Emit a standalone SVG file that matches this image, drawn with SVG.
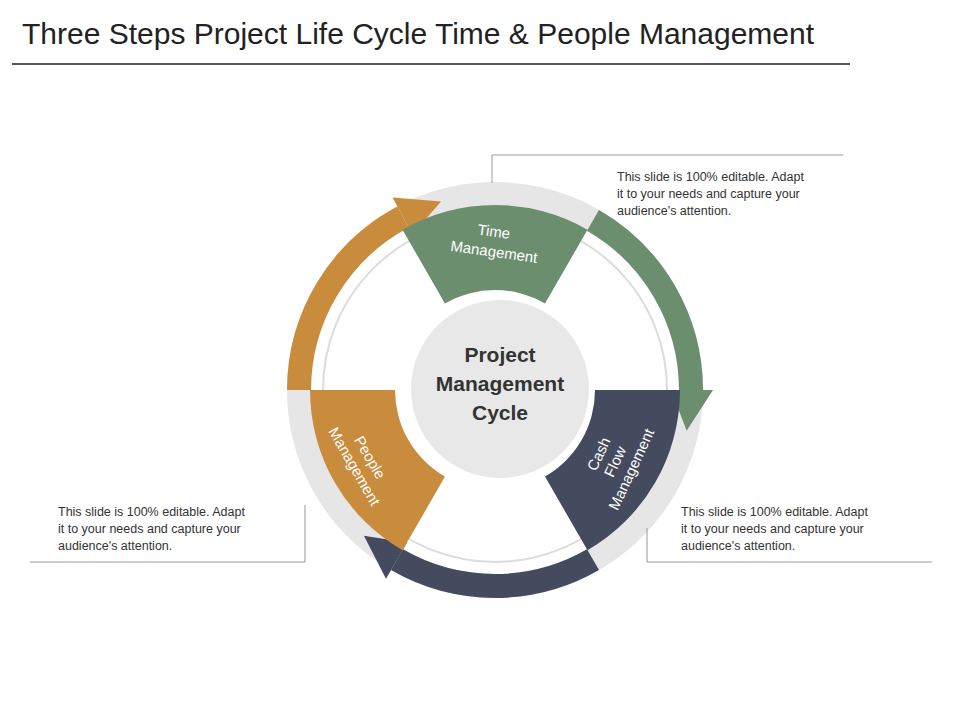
<svg xmlns="http://www.w3.org/2000/svg" width="960" height="720" viewBox="0 0 960 720">
<style>
.t{font-family:"Liberation Sans",Arial,sans-serif}
.note{font-family:"Liberation Sans",Arial,sans-serif;font-size:12.5px;fill:#333}
.lbl{font-family:"Liberation Sans",Arial,sans-serif;font-size:15px;fill:#fff}
.band{fill:none;stroke-width:24}
.co{fill:none;stroke:#999;stroke-width:1}
</style>
<rect width="960" height="720" fill="#fff"/>
<text class="t" x="22" y="44" font-size="30" fill="#222">Three Steps Project Life Cycle Time &amp; People Management</text>
<line x1="12" y1="64" x2="850" y2="64" stroke="#555" stroke-width="2"/>
<g id="ring">
<circle cx="495" cy="390" r="196" fill="none" stroke="#e6e6e6" stroke-width="24"/>
<circle cx="495" cy="390" r="172" fill="none" stroke="#dcdcdc" stroke-width="2"/>
</g>
<g id="connectors">
<path class="band" stroke="#c98b3c" d="M299,390 A196 196 0 0 1 403,217"/>
<polygon fill="#c98b3c" points="412.4,234.6 392.6,197.5 441,201.6"/>
<path class="band" stroke="#6b8e6e" d="M593,220.3 A196 196 0 0 1 691,390"/>
<polygon fill="#6b8e6e" points="671,390 713,390 686.7,430.8"/>
<path class="band" stroke="#454b5e" d="M593,559.7 A196 196 0 0 1 397,559.7"/>
<polygon fill="#454b5e" points="407,542.4 386,578.8 363.9,535.7"/>
<polyline class="co" points="492,183 492,155 843,155"/>
<polyline class="co" points="30,562 305,562 305,505"/>
<polyline class="co" points="647,528 647,562 932,562"/>
</g>
<g id="time">
<path fill="#6b8e6e" d="M402.5,229.8 A185 185 0 0 1 587.5,229.8 L545,303.4 A100 100 0 0 0 445,303.4 Z"/>
<g transform="translate(495,245) rotate(8)"><text class="lbl" text-anchor="middle" x="-3" y="-8">Time</text><text class="lbl" text-anchor="middle" x="0" y="12">Management</text></g>
</g>
<g id="cash">
<path fill="#454b5e" d="M680,390 A185 185 0 0 1 587.5,550.2 L545,476.6 A100 100 0 0 0 595,390 Z"/>
<g transform="translate(618,463) rotate(-65)"><text class="lbl" text-anchor="middle" y="-16">Cash</text><text class="lbl" text-anchor="middle" y="2">Flow</text><text class="lbl" text-anchor="middle" y="20">Management</text></g>
</g>
<g id="people">
<path fill="#c98b3c" d="M402.5,550.2 A185 185 0 0 1 310,390 L395,390 A100 100 0 0 0 445,476.6 Z"/>
<g transform="translate(362,462) rotate(60)"><text class="lbl" text-anchor="middle" y="-4">People</text><text class="lbl" text-anchor="middle" y="14">Management</text></g>
</g>
<g id="center">
<circle cx="500" cy="389" r="89" fill="#e8e8e8"/>
<text class="t" font-size="21" font-weight="bold" fill="#333" text-anchor="middle"><tspan x="500" y="362">Project</tspan><tspan x="500" y="391">Management</tspan><tspan x="500" y="420">Cycle</tspan></text>
</g>
<g id="note1"><text class="note"><tspan x="617" y="181">This slide is 100% editable. Adapt</tspan><tspan x="617" y="198">it to your needs and capture your</tspan><tspan x="617" y="215">audience's attention.</tspan></text></g>
<g id="note2"><text class="note"><tspan x="58" y="516">This slide is 100% editable. Adapt</tspan><tspan x="58" y="533">it to your needs and capture your</tspan><tspan x="58" y="550">audience's attention.</tspan></text></g>
<g id="note3"><text class="note"><tspan x="681" y="516">This slide is 100% editable. Adapt</tspan><tspan x="681" y="533">it to your needs and capture your</tspan><tspan x="681" y="550">audience's attention.</tspan></text></g>
</svg>
